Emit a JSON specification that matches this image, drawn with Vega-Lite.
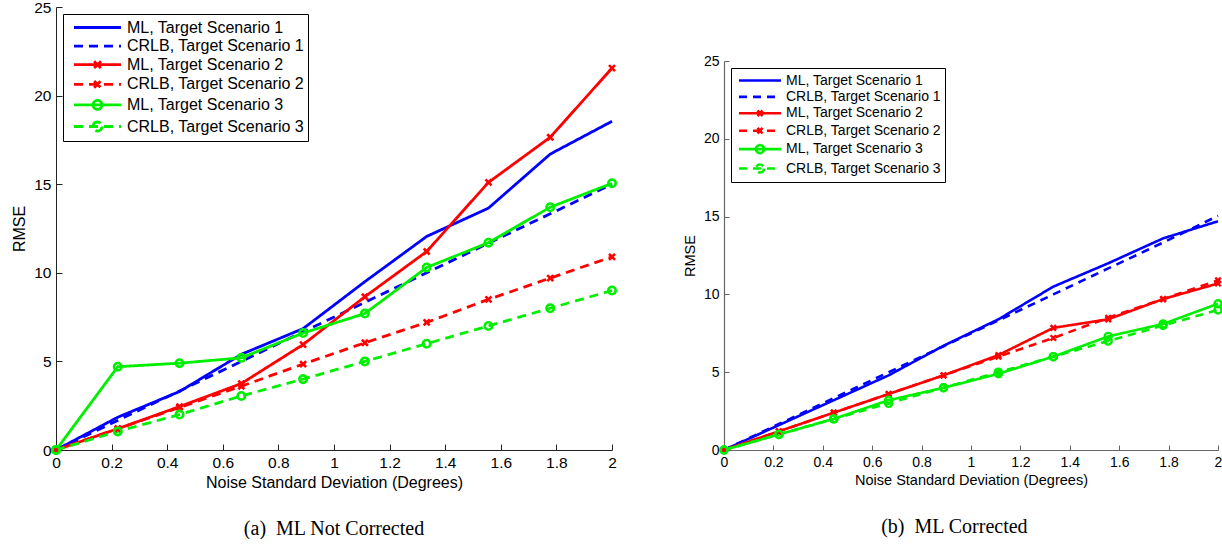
{
  "$schema": "https://vega.github.io/schema/vega-lite/v6.json",
  "padding": {"left": 11, "top": 0, "right": 0, "bottom": 0},
  "background": "white",
  "config": {"view": {"stroke": null}, "concat": {"spacing": 61}, "font": "Liberation Sans"},
  "datasets": {
    "left": [
      {"x":0,"y":0,"s":"ML, Target Scenario 1"},{"x":0.2222,"y":1.85,"s":"ML, Target Scenario 1"},{"x":0.4444,"y":3.3,"s":"ML, Target Scenario 1"},{"x":0.6667,"y":5.4,"s":"ML, Target Scenario 1"},{"x":0.8889,"y":6.85,"s":"ML, Target Scenario 1"},{"x":1.1111,"y":9.5,"s":"ML, Target Scenario 1"},{"x":1.3333,"y":12.05,"s":"ML, Target Scenario 1"},{"x":1.5556,"y":13.65,"s":"ML, Target Scenario 1"},{"x":1.7778,"y":16.7,"s":"ML, Target Scenario 1"},{"x":2,"y":18.55,"s":"ML, Target Scenario 1"},
      {"x":0,"y":0,"s":"CRLB, Target Scenario 1"},{"x":0.2222,"y":1.67,"s":"CRLB, Target Scenario 1"},{"x":0.4444,"y":3.33,"s":"CRLB, Target Scenario 1"},{"x":0.6667,"y":5.0,"s":"CRLB, Target Scenario 1"},{"x":0.8889,"y":6.67,"s":"CRLB, Target Scenario 1"},{"x":1.1111,"y":8.33,"s":"CRLB, Target Scenario 1"},{"x":1.3333,"y":10.0,"s":"CRLB, Target Scenario 1"},{"x":1.5556,"y":11.67,"s":"CRLB, Target Scenario 1"},{"x":1.7778,"y":13.33,"s":"CRLB, Target Scenario 1"},{"x":2,"y":15.0,"s":"CRLB, Target Scenario 1"},
      {"x":0,"y":0,"s":"ML, Target Scenario 2"},{"x":0.2222,"y":1.2,"s":"ML, Target Scenario 2"},{"x":0.4444,"y":2.45,"s":"ML, Target Scenario 2"},{"x":0.6667,"y":3.75,"s":"ML, Target Scenario 2"},{"x":0.8889,"y":5.95,"s":"ML, Target Scenario 2"},{"x":1.1111,"y":8.65,"s":"ML, Target Scenario 2"},{"x":1.3333,"y":11.2,"s":"ML, Target Scenario 2"},{"x":1.5556,"y":15.1,"s":"ML, Target Scenario 2"},{"x":1.7778,"y":17.65,"s":"ML, Target Scenario 2"},{"x":2,"y":21.55,"s":"ML, Target Scenario 2"},
      {"x":0,"y":0,"s":"CRLB, Target Scenario 2"},{"x":0.2222,"y":1.2,"s":"CRLB, Target Scenario 2"},{"x":0.4444,"y":2.4,"s":"CRLB, Target Scenario 2"},{"x":0.6667,"y":3.6,"s":"CRLB, Target Scenario 2"},{"x":0.8889,"y":4.85,"s":"CRLB, Target Scenario 2"},{"x":1.1111,"y":6.05,"s":"CRLB, Target Scenario 2"},{"x":1.3333,"y":7.2,"s":"CRLB, Target Scenario 2"},{"x":1.5556,"y":8.5,"s":"CRLB, Target Scenario 2"},{"x":1.7778,"y":9.7,"s":"CRLB, Target Scenario 2"},{"x":2,"y":10.9,"s":"CRLB, Target Scenario 2"},
      {"x":0,"y":0,"s":"ML, Target Scenario 3"},{"x":0.2222,"y":4.7,"s":"ML, Target Scenario 3"},{"x":0.4444,"y":4.9,"s":"ML, Target Scenario 3"},{"x":0.6667,"y":5.2,"s":"ML, Target Scenario 3"},{"x":0.8889,"y":6.6,"s":"ML, Target Scenario 3"},{"x":1.1111,"y":7.7,"s":"ML, Target Scenario 3"},{"x":1.3333,"y":10.3,"s":"ML, Target Scenario 3"},{"x":1.5556,"y":11.7,"s":"ML, Target Scenario 3"},{"x":1.7778,"y":13.7,"s":"ML, Target Scenario 3"},{"x":2,"y":15.05,"s":"ML, Target Scenario 3"},
      {"x":0,"y":0,"s":"CRLB, Target Scenario 3"},{"x":0.2222,"y":1.05,"s":"CRLB, Target Scenario 3"},{"x":0.4444,"y":2.0,"s":"CRLB, Target Scenario 3"},{"x":0.6667,"y":3.05,"s":"CRLB, Target Scenario 3"},{"x":0.8889,"y":4.0,"s":"CRLB, Target Scenario 3"},{"x":1.1111,"y":5.0,"s":"CRLB, Target Scenario 3"},{"x":1.3333,"y":6.0,"s":"CRLB, Target Scenario 3"},{"x":1.5556,"y":7.0,"s":"CRLB, Target Scenario 3"},{"x":1.7778,"y":8.0,"s":"CRLB, Target Scenario 3"},{"x":2,"y":9.0,"s":"CRLB, Target Scenario 3"}
    ],
    "right": [
      {"x":0,"y":0,"s":"ML, Target Scenario 1"},{"x":0.2222,"y":1.6,"s":"ML, Target Scenario 1"},{"x":0.4444,"y":3.2,"s":"ML, Target Scenario 1"},{"x":0.6667,"y":4.8,"s":"ML, Target Scenario 1"},{"x":0.8889,"y":6.7,"s":"ML, Target Scenario 1"},{"x":1.1111,"y":8.4,"s":"ML, Target Scenario 1"},{"x":1.3333,"y":10.5,"s":"ML, Target Scenario 1"},{"x":1.5556,"y":12.0,"s":"ML, Target Scenario 1"},{"x":1.7778,"y":13.6,"s":"ML, Target Scenario 1"},{"x":2,"y":14.7,"s":"ML, Target Scenario 1"},
      {"x":0,"y":0,"s":"CRLB, Target Scenario 1"},{"x":0.2222,"y":1.67,"s":"CRLB, Target Scenario 1"},{"x":0.4444,"y":3.33,"s":"CRLB, Target Scenario 1"},{"x":0.6667,"y":5.0,"s":"CRLB, Target Scenario 1"},{"x":0.8889,"y":6.67,"s":"CRLB, Target Scenario 1"},{"x":1.1111,"y":8.33,"s":"CRLB, Target Scenario 1"},{"x":1.3333,"y":10.0,"s":"CRLB, Target Scenario 1"},{"x":1.5556,"y":11.67,"s":"CRLB, Target Scenario 1"},{"x":1.7778,"y":13.33,"s":"CRLB, Target Scenario 1"},{"x":2,"y":15.05,"s":"CRLB, Target Scenario 1"},
      {"x":0,"y":0,"s":"ML, Target Scenario 2"},{"x":0.2222,"y":1.2,"s":"ML, Target Scenario 2"},{"x":0.4444,"y":2.4,"s":"ML, Target Scenario 2"},{"x":0.6667,"y":3.6,"s":"ML, Target Scenario 2"},{"x":0.8889,"y":4.8,"s":"ML, Target Scenario 2"},{"x":1.1111,"y":6.1,"s":"ML, Target Scenario 2"},{"x":1.3333,"y":7.85,"s":"ML, Target Scenario 2"},{"x":1.5556,"y":8.4,"s":"ML, Target Scenario 2"},{"x":1.7778,"y":9.7,"s":"ML, Target Scenario 2"},{"x":2,"y":10.7,"s":"ML, Target Scenario 2"},
      {"x":0,"y":0,"s":"CRLB, Target Scenario 2"},{"x":0.2222,"y":1.2,"s":"CRLB, Target Scenario 2"},{"x":0.4444,"y":2.4,"s":"CRLB, Target Scenario 2"},{"x":0.6667,"y":3.6,"s":"CRLB, Target Scenario 2"},{"x":0.8889,"y":4.8,"s":"CRLB, Target Scenario 2"},{"x":1.1111,"y":6.0,"s":"CRLB, Target Scenario 2"},{"x":1.3333,"y":7.2,"s":"CRLB, Target Scenario 2"},{"x":1.5556,"y":8.5,"s":"CRLB, Target Scenario 2"},{"x":1.7778,"y":9.7,"s":"CRLB, Target Scenario 2"},{"x":2,"y":10.9,"s":"CRLB, Target Scenario 2"},
      {"x":0,"y":0,"s":"ML, Target Scenario 3"},{"x":0.2222,"y":1.0,"s":"ML, Target Scenario 3"},{"x":0.4444,"y":2.0,"s":"ML, Target Scenario 3"},{"x":0.6667,"y":3.2,"s":"ML, Target Scenario 3"},{"x":0.8889,"y":4.0,"s":"ML, Target Scenario 3"},{"x":1.1111,"y":4.9,"s":"ML, Target Scenario 3"},{"x":1.3333,"y":6.0,"s":"ML, Target Scenario 3"},{"x":1.5556,"y":7.3,"s":"ML, Target Scenario 3"},{"x":1.7778,"y":8.1,"s":"ML, Target Scenario 3"},{"x":2,"y":9.4,"s":"ML, Target Scenario 3"},
      {"x":0,"y":0,"s":"CRLB, Target Scenario 3"},{"x":0.2222,"y":1.0,"s":"CRLB, Target Scenario 3"},{"x":0.4444,"y":2.0,"s":"CRLB, Target Scenario 3"},{"x":0.6667,"y":3.0,"s":"CRLB, Target Scenario 3"},{"x":0.8889,"y":4.0,"s":"CRLB, Target Scenario 3"},{"x":1.1111,"y":5.0,"s":"CRLB, Target Scenario 3"},{"x":1.3333,"y":6.0,"s":"CRLB, Target Scenario 3"},{"x":1.5556,"y":7.0,"s":"CRLB, Target Scenario 3"},{"x":1.7778,"y":8.0,"s":"CRLB, Target Scenario 3"},{"x":2,"y":9.0,"s":"CRLB, Target Scenario 3"}
    ],
    "spacer": [{"a": 1}]
  },
  "columns": 2,
  "align": "none",
  "resolve": {"scale": {"color": "independent", "strokeDash": "independent"}, "legend": {"color": "independent", "strokeDash": "independent"}},
  "concat": [
    {
      "width": 556, "height": 443,
      "data": {"name": "left"},
      "title": {"text": "(a)\u2002ML Not Corrected", "orient": "bottom", "anchor": "middle", "font": "Liberation Serif", "fontSize": 20, "fontWeight": "normal", "color": "black", "offset": 28},
      "encoding": {
        "x": {"field": "x", "type": "quantitative", "scale": {"domain": [0, 2], "nice": false},
          "axis": {"values": [0,0.2,0.4,0.6,0.8,1,1.2,1.4,1.6,1.8,2], "format": "~g", "grid": false, "title": "Noise Standard Deviation (Degrees)", "titleFont": "Liberation Sans", "titleFontSize": 16, "titleFontWeight": "normal", "titleColor": "black", "titlePadding": 4, "labelFont": "Liberation Sans", "labelFontSize": 15.5, "labelColor": "black", "labelPadding": 11, "labelFlush": false, "labelOverlap": false, "tickSize": -6, "tickColor": "#222", "domainColor": "#222", "tickWidth": 1, "domainWidth": 1}},
        "y": {"field": "y", "type": "quantitative", "scale": {"domain": [0, 25], "nice": false},
          "axis": {"values": [0,5,10,15,20,25], "grid": false, "title": "RMSE", "titleFont": "Liberation Sans", "titleFontSize": 16, "titleFontWeight": "normal", "titleColor": "black", "titlePadding": 6, "labelFont": "Liberation Sans", "labelFontSize": 15.5, "labelColor": "black", "labelPadding": 11, "labelFlush": false, "labelOverlap": false, "tickSize": -6, "tickColor": "#222", "domainColor": "#222", "tickWidth": 1, "domainWidth": 1}}
      },
      "layer": [
        {
          "mark": {"type": "line", "strokeWidth": 2.8},
          "encoding": {
            "color": {"field": "s", "type": "nominal",
              "scale": {"domain": ["ML, Target Scenario 1","CRLB, Target Scenario 1","ML, Target Scenario 2","CRLB, Target Scenario 2","ML, Target Scenario 3","CRLB, Target Scenario 3"], "range": ["#0000ff","#0000ff","#ff0000","#ff0000","#00ee00","#00ee00"]},
              "legend": {"orient": "top-left", "offset": 6.5, "direction": "vertical", "title": null, "labelFont": "Liberation Sans", "labelFontSize": 16, "labelColor": "black", "labelLimit": 400, "labelOffset": 41, "symbolSize": 256, "symbolStrokeWidth": 2.8, "padding": 4, "rowPadding": 0.6, "strokeColor": "black", "fillColor": "white",
                "encode": {"symbols": {"update": {
                  "shape": {"signal": "indexof(datum.value,'Scenario 2')>=0 ? 'M-0.31,0L5.56,0M2.2,-0.42L3.05,0.42M2.2,0.42L3.05,-0.42' : (indexof(datum.value,'Scenario 3')>=0 ? 'M-0.31,0L5.56,0M3.19,0A0.56,0.56,0,1,1,2.07,0A0.56,0.56,0,1,1,3.19,0' : 'M-0.31,0L5.56,0')"},
                  "strokeDash": {"signal": "indexof(datum.value,'CRLB')>=0 ? [8,5] : [1,0]"},
                  "fill": {"value": "transparent"}}}}}},
            "strokeDash": {"field": "s", "type": "nominal", "legend": null,
              "scale": {"domain": ["ML, Target Scenario 1","CRLB, Target Scenario 1","ML, Target Scenario 2","CRLB, Target Scenario 2","ML, Target Scenario 3","CRLB, Target Scenario 3"], "range": [[1,0],[9,6],[1,0],[9,6],[1,0],[9,6]]}}
          }
        },
        {
          "transform": [{"filter": "indexof(datum.s,'Scenario 2')>=0"}],
          "mark": {"type": "point", "shape": "M-1,-1L1,1M-1,1L1,-1", "size": 36, "strokeWidth": 2.6, "filled": false, "opacity": 1},
          "encoding": {"color": {"field": "s", "type": "nominal", "legend": null}}
        },
        {
          "transform": [{"filter": "indexof(datum.s,'Scenario 3')>=0"}],
          "mark": {"type": "point", "shape": "circle", "size": 55, "strokeWidth": 2.6, "filled": false, "opacity": 1},
          "encoding": {"color": {"field": "s", "type": "nominal", "legend": null}}
        }
      ]
    },
    {
      "title": {"text": "(b)\u2002ML Corrected", "orient": "bottom", "anchor": "middle", "font": "Liberation Serif", "fontSize": 20, "fontWeight": "normal", "color": "black", "offset": 30},
      "spacing": 10,
      "resolve": {"scale": {"color": "independent", "strokeDash": "independent"}, "legend": {"color": "independent", "strokeDash": "independent"}},
      "vconcat": [
        {
          "width": 10, "height": 37,
          "data": {"name": "spacer"},
          "mark": {"type": "point", "opacity": 0}
        },
        {
          "width": 494, "height": 389,
          "data": {"name": "right"},
          "encoding": {
            "x": {"field": "x", "type": "quantitative", "scale": {"domain": [0, 2], "nice": false},
              "axis": {"values": [0,0.2,0.4,0.6,0.8,1,1.2,1.4,1.6,1.8,2], "format": "~g", "grid": false, "title": "Noise Standard Deviation (Degrees)", "titleFont": "Liberation Sans", "titleFontSize": 14.5, "titleFontWeight": "normal", "titleColor": "black", "titlePadding": 4, "labelFont": "Liberation Sans", "labelFontSize": 14, "labelColor": "black", "labelPadding": 10, "labelFlush": false, "labelOverlap": false, "tickSize": -5, "tickColor": "#666", "domainColor": "#666", "tickWidth": 1, "domainWidth": 1.2}},
            "y": {"field": "y", "type": "quantitative", "scale": {"domain": [0, 25], "nice": false},
              "axis": {"values": [0,5,10,15,20,25], "grid": false, "title": "RMSE", "titleFont": "Liberation Sans", "titleFontSize": 14.5, "titleFontWeight": "normal", "titleColor": "black", "titlePadding": 6, "labelFont": "Liberation Sans", "labelFontSize": 14, "labelColor": "black", "labelPadding": 10, "labelFlush": false, "labelOverlap": false, "tickSize": -5, "tickColor": "#666", "domainColor": "#666", "tickWidth": 1, "domainWidth": 1.2}}
          },
          "layer": [
            {
              "mark": {"type": "line", "strokeWidth": 2.6},
              "encoding": {
                "color": {"field": "s", "type": "nominal",
                  "scale": {"domain": ["ML, Target Scenario 1","CRLB, Target Scenario 1","ML, Target Scenario 2","CRLB, Target Scenario 2","ML, Target Scenario 3","CRLB, Target Scenario 3"], "range": ["#0000ff","#0000ff","#ff0000","#ff0000","#00ee00","#00ee00"]},
                  "legend": {"orient": "top-left", "offset": 7, "direction": "vertical", "title": null, "labelFont": "Liberation Sans", "labelFontSize": 14, "labelColor": "black", "labelLimit": 400, "labelOffset": 34, "symbolSize": 196, "symbolStrokeWidth": 2.6, "padding": 4, "rowPadding": 0.4, "strokeColor": "black", "fillColor": "white",
                    "encode": {"symbols": {"update": {
                      "shape": {"signal": "indexof(datum.value,'Scenario 2')>=0 ? 'M-0.64,0L5.36,0M2.0,-0.4L2.72,0.4M2.0,0.4L2.72,-0.4' : (indexof(datum.value,'Scenario 3')>=0 ? 'M-0.64,0L5.36,0M2.93,0A0.57,0.57,0,1,1,1.79,0A0.57,0.57,0,1,1,2.93,0' : 'M-0.64,0L5.36,0')"},
                      "strokeDash": {"signal": "indexof(datum.value,'CRLB')>=0 ? [7,5] : [1,0]"},
                      "fill": {"value": "transparent"}}}}}},
                "strokeDash": {"field": "s", "type": "nominal", "legend": null,
                  "scale": {"domain": ["ML, Target Scenario 1","CRLB, Target Scenario 1","ML, Target Scenario 2","CRLB, Target Scenario 2","ML, Target Scenario 3","CRLB, Target Scenario 3"], "range": [[1,0],[8,6],[1,0],[8,6],[1,0],[8,6]]}}
              }
            },
            {
              "transform": [{"filter": "indexof(datum.s,'Scenario 2')>=0"}],
              "mark": {"type": "point", "shape": "M-1,-1L1,1M-1,1L1,-1", "size": 30, "strokeWidth": 2.4, "filled": false, "opacity": 1},
              "encoding": {"color": {"field": "s", "type": "nominal", "legend": null}}
            },
            {
              "transform": [{"filter": "indexof(datum.s,'Scenario 3')>=0"}],
              "mark": {"type": "point", "shape": "circle", "size": 50, "strokeWidth": 2.4, "filled": false, "opacity": 1},
              "encoding": {"color": {"field": "s", "type": "nominal", "legend": null}}
            }
          ]
        }
      ]
    }
  ]
}
